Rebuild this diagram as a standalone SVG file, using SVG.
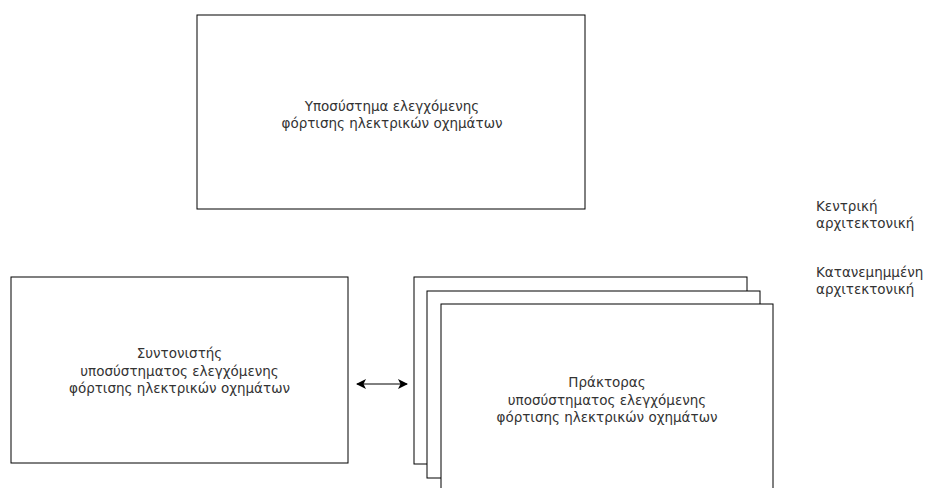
<svg xmlns="http://www.w3.org/2000/svg" width="928" height="488" viewBox="0 0 928 488">
  <style>
    .box { fill: #ffffff; stroke: #000000; stroke-width: 1; }
    .lbl { font-family: "DejaVu Sans", Verdana, sans-serif; font-size: 13.5px; fill: #333333; text-anchor: middle; }
    .side { font-family: "DejaVu Sans", Verdana, sans-serif; font-size: 13.5px; fill: #333333; text-anchor: start; }
    .link { fill: none; stroke: #000000; stroke-width: 1; }
  </style>
  <defs>
    <marker id="head" viewBox="0 0 10 10" refX="9" refY="5" markerWidth="10" markerHeight="10" markerUnits="userSpaceOnUse" orient="auto-start-reverse">
      <path d="M0,0 L10,5 L0,10 L2.5,5 Z" fill="#000000"/>
    </marker>
  </defs>
  <rect width="928" height="488" fill="#ffffff"/>

  <!-- central subsystem -->
  <g id="subsystem">
    <rect class="box" x="197" y="15" width="388" height="194"/>
    <text class="lbl" x="392" y="111">Υποσύστημα ελεγχόμενης</text>
    <text class="lbl" x="392" y="128">φόρτισης ηλεκτρικών οχημάτων</text>
  </g>

  <!-- coordinator -->
  <g id="coordinator">
    <rect class="box" x="11" y="277" width="337" height="186"/>
    <text class="lbl" x="179.5" y="358">Συντονιστής</text>
    <text class="lbl" x="179.5" y="375.5">υποσύστηματος ελεγχόμενης</text>
    <text class="lbl" x="179.5" y="393">φόρτισης ηλεκτρικών οχημάτων</text>
  </g>

  <!-- stacked agents -->
  <g id="agents">
    <rect class="box" x="414" y="277" width="333" height="187"/>
    <rect class="box" x="427" y="291" width="333" height="187"/>
    <rect class="box" x="441" y="304" width="332" height="190"/>
    <text class="lbl" x="607" y="387">Πράκτορας</text>
    <text class="lbl" x="607" y="404.5">υποσύστηματος ελεγχόμενης</text>
    <text class="lbl" x="607" y="422">φόρτισης ηλεκτρικών οχημάτων</text>
  </g>

  <!-- side labels -->
  <g id="label-central">
    <text class="side" x="816" y="211">Κεντρική</text>
    <text class="side" x="816" y="227.5">αρχιτεκτονική</text>
  </g>
  <g id="label-distributed">
    <text class="side" x="816" y="277">Κατανεμημμένη</text>
    <text class="side" x="816" y="294">αρχιτεκτονική</text>
  </g>

  <!-- connectors -->
  <g id="connectors">
    <line class="link" x1="357" y1="384" x2="407" y2="384" marker-start="url(#head)" marker-end="url(#head)"/>
  </g>
</svg>
